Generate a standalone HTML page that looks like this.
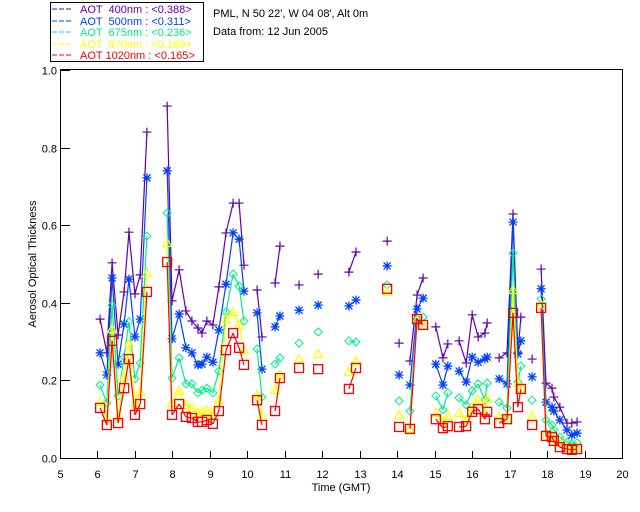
<!DOCTYPE html>
<html><head><meta charset="utf-8"><style>
html,body{margin:0;padding:0;background:#fff;}
svg{display:block;font-family:"Liberation Sans",sans-serif;}
</style></head><body>
<svg id="chart" width="640" height="512" viewBox="0 0 640 512" xmlns="http://www.w3.org/2000/svg">
<g>
<rect x="50.5" y="2.5" width="153" height="59" fill="#fff" stroke="#000"/>
<g font-size="11">
<line x1="52" y1="9" x2="73" y2="9" stroke="#6000b0" stroke-dasharray="5,2"/><text x="80" y="13" fill="#6000b0" xml:space="preserve">AOT  400nm : &lt;0.388&gt;</text>
<line x1="52" y1="21" x2="73" y2="21" stroke="#0040ff" stroke-dasharray="5,2"/><text x="80" y="25" fill="#0040ff" xml:space="preserve">AOT  500nm : &lt;0.311&gt;</text>
<line x1="52" y1="32" x2="73" y2="32" stroke="#00ee88" stroke-dasharray="5,2"/><text x="80" y="36" fill="#00ee88" xml:space="preserve">AOT  675nm : &lt;0.236&gt;</text>
<line x1="52" y1="44" x2="73" y2="44" stroke="#ffff00" stroke-dasharray="5,2"/><text x="80" y="48" fill="#ffff00" xml:space="preserve">AOT  870nm : &lt;0.189&gt;</text>
<line x1="52" y1="55" x2="73" y2="55" stroke="#ff0000" stroke-dasharray="5,2"/><text x="80" y="59" fill="#ff0000" xml:space="preserve">AOT 1020nm : &lt;0.165&gt;</text>
</g></g>
<text x="213" y="17" font-size="11">PML, N 50 22', W 04 08', Alt 0m</text>
<text x="213" y="35" font-size="11">Data from: 12 Jun 2005</text>
<rect x="60.5" y="69.5" width="562" height="389" fill="none" stroke="#000"/>
<g id="axes"></g>
<g id="series"></g>
<text transform="translate(36,264) rotate(-90)" text-anchor="middle" font-size="11">Aerosol Optical Thickness</text>
<text x="341" y="491" text-anchor="middle" font-size="11">Time (GMT)</text>
</svg>
<script>
const times=[6.07,6.25,6.39,6.55,6.71,6.84,7.00,7.14,7.32,7.86,7.99,8.18,8.36,8.52,8.68,8.79,8.92,9.08,9.24,9.43,9.62,9.78,9.91,10.26,10.39,10.74,10.87,11.38,11.89,12.71,12.90,13.73,14.05,14.34,14.53,14.69,15.03,15.22,15.35,15.65,15.84,16.00,16.16,16.34,16.40,16.72,16.93,17.09,17.22,17.30,17.60,17.84,17.97,18.13,18.18,18.34,18.53,18.66,18.80];
const aot400=[0.358,0.271,0.503,0.317,0.428,0.582,0.423,0.472,0.840,0.907,0.405,0.485,0.379,0.353,0.335,0.322,0.353,0.343,0.441,0.580,0.657,0.657,0.497,0.433,0.312,0.451,0.546,0.446,0.474,0.479,0.531,0.559,0.296,0.250,0.420,0.464,0.338,0.258,0.294,0.302,0.245,0.369,0.312,0.322,0.348,0.258,0.271,0.629,0.271,0.363,0.255,0.487,0.193,0.180,0.157,0.131,0.090,0.090,0.093];
const aot500=[0.271,0.214,0.464,0.242,0.345,0.461,0.312,0.358,0.722,0.740,0.307,0.371,0.284,0.271,0.240,0.242,0.260,0.247,0.330,0.448,0.580,0.564,0.430,0.374,0.229,0.338,0.366,0.381,0.394,0.392,0.407,0.495,0.214,0.188,0.384,0.412,0.242,0.188,0.237,0.224,0.196,0.260,0.247,0.255,0.260,0.204,0.191,0.608,0.268,0.302,0.209,0.436,0.144,0.131,0.121,0.098,0.072,0.059,0.064];
const aot675=[0.188,0.142,0.394,0.160,0.260,0.351,0.204,0.245,0.572,0.631,0.206,0.258,0.191,0.191,0.168,0.175,0.180,0.168,0.224,0.376,0.474,0.443,0.353,0.281,0.157,0.242,0.258,0.296,0.325,0.302,0.299,0.446,0.147,0.121,0.358,0.363,0.160,0.124,0.168,0.155,0.137,0.173,0.191,0.149,0.193,0.144,0.129,0.528,0.196,0.237,0.149,0.410,0.098,0.085,0.072,0.054,0.041,0.036,0.039];
const aot870=[0.144,0.103,0.332,0.105,0.209,0.294,0.142,0.170,0.477,0.554,0.142,0.173,0.137,0.129,0.116,0.119,0.124,0.113,0.149,0.358,0.376,0.343,0.278,0.162,0.108,0.175,0.214,0.255,0.268,0.222,0.250,0.428,0.111,0.075,0.356,0.343,0.116,0.093,0.108,0.116,0.098,0.131,0.149,0.116,0.152,0.106,0.103,0.433,0.193,0.180,0.108,0.394,0.064,0.059,0.049,0.039,0.026,0.021,0.026];
const aot1020=[0.129,0.085,0.302,0.090,0.180,0.255,0.111,0.139,0.428,0.505,0.111,0.139,0.106,0.103,0.093,0.093,0.098,0.088,0.121,0.278,0.322,0.284,0.240,0.149,0.085,0.121,0.206,0.232,0.229,0.178,0.232,0.436,0.080,0.075,0.358,0.343,0.100,0.077,0.082,0.080,0.082,0.119,0.126,0.100,0.119,0.090,0.100,0.374,0.131,0.178,0.085,0.387,0.057,0.054,0.044,0.028,0.023,0.021,0.023];
const xTicks=[5,6,7,8,9,10,11,12,13,14,15,16,17,18,19,20];
const yTicks=[0.0,0.2,0.4,0.6,0.8,1.0];
const yTickLabels=["0.0","0.2","0.4","0.6","0.8","1.0"];

const NS="http://www.w3.org/2000/svg";
function xs(t){return 60+(t-5)*37.47;}
function ys(v){return 458-v*388;}
function mk(tag,attrs,parent){const e=document.createElementNS(NS,tag);for(const k in attrs)e.setAttribute(k,attrs[k]);parent.appendChild(e);return e;}
const axes=document.getElementById('axes');
xTicks.forEach(t=>{
  const x=Math.round(xs(t))+0.5;
  const tk=mk('line',{x1:x,y1:458,x2:x,y2:451,stroke:'#000'},axes);
  
  
  const lb=mk('text',{x:x,y:478,'text-anchor':'middle','font-size':'11'},axes);
  lb.textContent=String(t);
  
  
});
yTicks.forEach((v,i)=>{
  const y=Math.round(ys(v))+0.5;
  const tk=mk('line',{x1:60,y1:y,x2:70,y2:y,stroke:'#000'},axes);
  
  
  const lb=mk('text',{x:57,y:y+4,'text-anchor':'end','font-size':'11'},axes);
  lb.textContent=yTickLabels[i];
  
  
});
const sg=document.getElementById('series');
function drawSeries(vals,color,sym,name){
  const g=mk('g',{},sg);
  
  
  for(let i=1;i<times.length;i++){
    if(times[i]-times[i-1]<0.235){
      const l=mk('line',{x1:xs(times[i-1]),y1:ys(vals[i-1]),x2:xs(times[i]),y2:ys(vals[i]),stroke:color,'stroke-width':1.2},g);
      
      
    }
  }
  times.forEach((t,i)=>{
    const x=xs(t),y=ys(vals[i]);let m;
    if(sym==='plus'){m=mk('path',{d:`M${x-4.5},${y}H${x+4.5}M${x},${y-4.5}V${y+4.5}`,stroke:color,fill:'none','stroke-width':1.2},g);}
    else if(sym==='star'){m=mk('path',{d:`M${x-4.5},${y}H${x+4.5}M${x},${y-4.5}V${y+4.5}M${x-3.5},${y-3.5}L${x+3.5},${y+3.5}M${x-3.5},${y+3.5}L${x+3.5},${y-3.5}`,stroke:color,fill:'none','stroke-width':1.3},g);}
    else if(sym==='diamond'){m=mk('path',{d:`M${x},${y-4}L${x+4},${y}L${x},${y+4}L${x-4},${y}Z`,stroke:color,fill:'none','stroke-width':1},g);}
    else if(sym==='tri'){m=mk('path',{d:`M${x},${y-4.5}L${x+4.5},${y+3.5}L${x-4.5},${y+3.5}Z`,stroke:color,fill:'none','stroke-width':1.2},g);}
    else {m=mk('rect',{x:x-4.5,y:y-4.5,width:9,height:9,stroke:color,fill:'none','stroke-width':1.3},g);}
    
    
  });
}
drawSeries(aot400,'#6000b0','plus','series-400nm');
drawSeries(aot500,'#0040ff','star','series-500nm');
drawSeries(aot675,'#00ee88','diamond','series-675nm');
drawSeries(aot870,'#ffff00','tri','series-870nm');
drawSeries(aot1020,'#ff0000','square','series-1020nm');
</script>
</body></html>
